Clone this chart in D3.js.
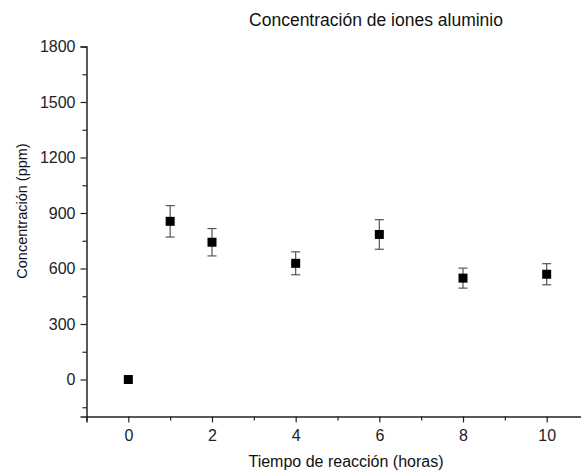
<!DOCTYPE html>
<html><head><meta charset="utf-8">
<script src="https://cdn.jsdelivr.net/npm/d3@7"></script>
<style>body{margin:0;background:#fff}svg{display:block}</style>
</head><body>
<script>
const hours = [0, 1, 2, 4, 6, 8, 10];
const concentration = [0, 855, 742, 628, 784, 548, 569];
const errors = [0, 85, 74, 62, 80, 54, 57];
const yTicks = [0, 300, 600, 900, 1200, 1500, 1800];
const xTicks = [0, 2, 4, 6, 8, 10];
const title = "Concentración de iones aluminio";
const xLabel = "Tiempo de reacción (horas)";
const yLabel = "Concentración (ppm)";

const W = 581, H = 472;
const FONT = "'Liberation Sans', Arial, sans-serif";
const svg = d3.select("body").append("svg").attr("width", W).attr("height", H)
  .style("font-family", FONT);

const x = d3.scaleLinear().domain([-1, 11]).range([86.5, 588.5]);
const y = d3.scaleLinear().domain([-200, 1800]).range([416.5, 46.5]);

const axisColor = "#222";
// x axis
const xAxis = svg.append("g").attr("transform", `translate(0,${y(-200)})`);
xAxis.call(d3.axisBottom(x).tickValues(xTicks).tickSize(6).tickPadding(7).tickFormat(d3.format("d")));
xAxis.append("g").call(d3.axisBottom(x).tickValues([-1,1,3,5,7,9]).tickSize(4).tickFormat(""))
  .select(".domain").remove();
// y axis
const yAxis = svg.append("g").attr("transform", `translate(${x(-1)},0)`);
yAxis.call(d3.axisLeft(y).tickValues(yTicks).tickSize(6).tickPadding(5).tickFormat(d3.format("d")));
yAxis.append("g").call(d3.axisLeft(y).tickValues([-150,150,450,750,1050,1350,1650]).tickSize(4).tickFormat(""))
  .select(".domain").remove();

svg.selectAll(".domain").attr("stroke", axisColor).attr("stroke-width", 1.5);
svg.selectAll(".tick line").attr("stroke", axisColor).attr("stroke-width", 1.2);
svg.selectAll(".tick text").attr("fill", "#222").style("font-size", "16px")
  .style("font-family", FONT);

// error bars
const data = hours.map((h, i) => ({h, v: concentration[i], e: errors[i]}));
const eb = svg.append("g").attr("stroke", "#555").attr("stroke-width", 1.2);
data.filter(d => d.e > 0).forEach(d => {
  const cx = x(d.h);
  eb.append("line").attr("x1", cx).attr("x2", cx).attr("y1", y(d.v + d.e)).attr("y2", y(d.v - d.e));
  eb.append("line").attr("x1", cx - 4.5).attr("x2", cx + 4.5).attr("y1", y(d.v + d.e)).attr("y2", y(d.v + d.e));
  eb.append("line").attr("x1", cx - 4.5).attr("x2", cx + 4.5).attr("y1", y(d.v - d.e)).attr("y2", y(d.v - d.e));
});

// points
const s = 9;
svg.append("g").selectAll("rect").data(data).join("rect")
  .attr("x", d => x(d.h) - s/2).attr("y", d => y(d.v) - s/2)
  .attr("width", s).attr("height", s).attr("fill", "#000");

// title & labels
svg.append("text").attr("x", 376).attr("y", 26).attr("text-anchor", "middle")
  .style("font-size", "17.5px").attr("fill", "#111").text(title);
svg.append("text").attr("x", 346).attr("y", 467).attr("text-anchor", "middle")
  .style("font-size", "16px").attr("fill", "#111").text(xLabel);
svg.append("text").attr("transform", "translate(27,211) rotate(-90)").attr("text-anchor", "middle")
  .style("font-size", "14.5px").attr("fill", "#111").text(yLabel);
</script>
</body></html>
